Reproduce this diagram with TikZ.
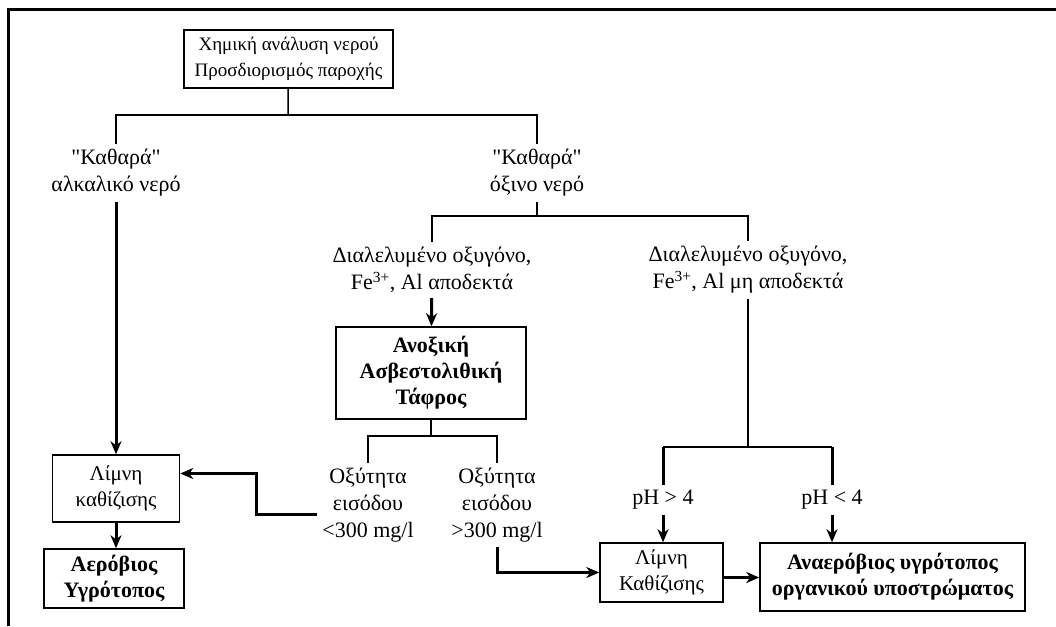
\documentclass[tikz,border=0pt]{standalone}
\usepackage{fontspec}
\setmainfont{Liberation Serif}
\usetikzlibrary{arrows.meta}

\begin{document}
\begin{tikzpicture}[x=1pt, y=-1pt, >={Stealth[length=13pt, width=11pt, inset=4pt]},
    every node/.style={font=\fontsize{22}{27}\selectfont, align=center},
    box/.style={draw, rectangle, line width=1.5pt, inner sep=0pt, font=\fontsize{21}{26}\selectfont},
    boldbox/.style={box, font=\fontsize{22}{26}\selectfont\bfseries},
    choice/.style={inner sep=5pt},
    link/.style={line width=1.5pt},
    flow/.style={line width=3pt, ->}]

        \useasboundingbox (0,0) rectangle (1056,626);
        \draw[line width=3pt] (8,626) -- (8,10) -- (1056,10);

        % Define the start box (top)
        \node[box, font=\fontsize{19}{26}\selectfont, minimum width=209pt, minimum height=58pt] (analysis) at (288.5,59) {Χημική ανάλυση νερού\\Προσδιορισμός παροχής};

        % Define the water type labels
        \node[choice] (alkaline) at (116,173) {\textquotedbl Καθαρά\textquotedbl\\αλκαλικό νερό};
        \node[choice] (acidic) at (537,173) {\textquotedbl Καθαρά\textquotedbl\\όξινο νερό};

        % Define the oxygen labels
        \node[choice] (oxyok) at (432,270) {Διαλελυμένο οξυγόνο,\\Fe\textsuperscript{3+}, Al αποδεκτά};
        \node[choice] (oxyno) at (748,270) {Διαλελυμένο οξυγόνο,\\Fe\textsuperscript{3+}, Al μη αποδεκτά};

        % Define the trench and the acidity labels
        \node[boldbox, minimum width=190pt, minimum height=92pt] (trench) at (431,373) {Ανοξική\\Ασβεστολιθική\\Τάφρος};
        \node[choice] (lowacid) at (368,505) {Οξύτητα\\εισόδου\\<300 mg/l};
        \node[choice] (highacid) at (497,505) {Οξύτητα\\εισόδου\\>300 mg/l};

        % Define the pH labels
        \node[choice] (phhigh) at (663,500) {pH > 4};
        \node[choice] (phlow) at (832,500) {pH < 4};

        % Define the ponds and wetlands (bottom)
        \node[box, minimum width=127pt, minimum height=67pt] (pondA) at (116,488.5) {Λίμνη\\καθίζισης};
        \node[boldbox, minimum width=140pt, minimum height=59pt] (aerobic) at (114,578.5) {Αερόβιος\\Υγρότοπος};
        \node[box, minimum width=123pt, minimum height=59pt] (pondB) at (661.5,572.5) {Λίμνη\\Καθίζισης};
        \node[boldbox, minimum width=265pt, minimum height=68pt] (anaerobic) at (892.5,577) {Αναερόβιος υγρότοπος\\οργανικού υποστρώματος};

        % Branch points
        \coordinate (split1) at (288,115);
        \coordinate (split2) at (537,216);
        \coordinate (split3) at (431,436);
        \coordinate (split4) at (748,447);
        \coordinate (bend) at (256,514);

        % Draw the branches
        \draw[link] (analysis) -- (split1);
        \draw[link] (split1) -| (alkaline);
        \draw[link] (split1) -| (acidic);
        \draw[link] (acidic) -- (split2);
        \draw[link] (split2) -| (oxyok);
        \draw[link] (split2) -| (oxyno);
        \draw[link] (trench) -- (split3);
        \draw[link] (split3) -| (lowacid);
        \draw[link] (split3) -| (highacid);
        \draw[link] (oxyno) -- (split4);
        \draw[line width=2pt] (phhigh |- split4) -- (phlow |- split4);
        \draw[line width=3pt] (phhigh |- split4) -- (phhigh);
        \draw[line width=3pt] (phlow |- split4) -- (phlow);

        % Draw the arrows
        \draw[flow] (alkaline) -- (alkaline |- pondA.north);
        \draw[flow] (oxyok) -- (trench);
        \draw[flow] (pondA.south) -- (pondA.south |- aerobic.north);
        \draw[flow] ([yshift=-9pt]lowacid.west) -- (bend) |- ([yshift=15pt]pondA.east);
        \draw[flow] (highacid) |- (pondB);
        \draw[flow] (phhigh) -- (phhigh |- pondB.north);
        \draw[flow] (phlow) -- (phlow |- anaerobic.north);
        \draw[flow] ([yshift=-5pt]pondB.east) -- ([yshift=-5pt]pondB.east -| anaerobic.west);

    \end{tikzpicture}
\end{document}
